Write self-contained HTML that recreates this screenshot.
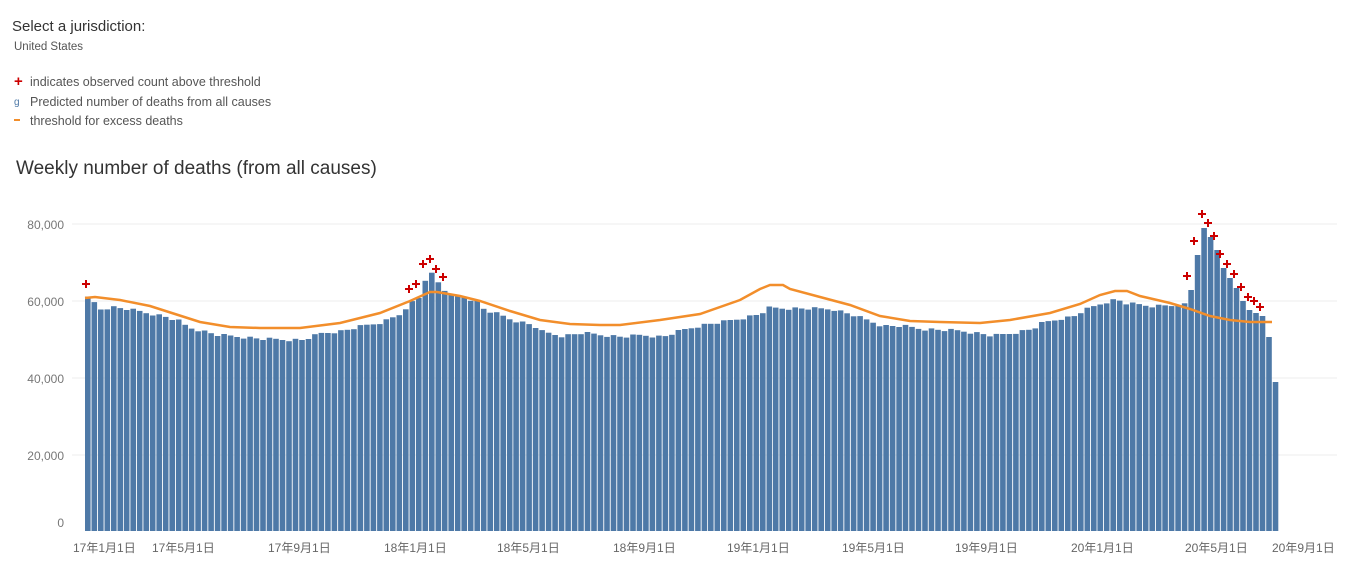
<!DOCTYPE html>
<html><head><meta charset="utf-8"><style>
body{margin:0;background:#fff;width:1349px;height:572px;overflow:hidden;font-family:"Liberation Sans","Noto Sans CJK SC",sans-serif;}
</style></head><body>
<svg id="s" width="1349" height="572" xmlns="http://www.w3.org/2000/svg" style="position:absolute;left:0;top:0">
<text x="12" y="31" font-size="15" fill="#333">Select a jurisdiction:</text>
<text x="14" y="50" font-size="11.5" fill="#555">United States</text>
<text x="14" y="86" font-size="15" fill="#c00" font-weight="bold">+</text>
<text x="30" y="86" font-size="12.5" fill="#555">indicates observed count above threshold</text>
<text x="14" y="105" font-size="10" fill="#4e79a7">g</text>
<text x="30" y="106" font-size="12.5" fill="#555">Predicted number of deaths from all causes</text>
<rect x="14" y="119" width="6" height="2" fill="#f28e2b"/>
<text x="30" y="125" font-size="12.5" fill="#555">threshold for excess deaths</text>
<text x="16" y="174" font-size="19" fill="#333">Weekly number of deaths (from all causes)</text>
<g id="g"></g>
</svg>
<script>
var g=document.getElementById('g'),h='';
[224,301,378,455].forEach(function(y){h+='<line x1="72" x2="1337" y1="'+y+'" y2="'+y+'" stroke="#eee"/>';});
[['80,000',229],['60,000',306],['40,000',383],['20,000',460],['0',527]].forEach(function(t){h+='<text x="64" y="'+t[1]+'" font-size="12" fill="#777" text-anchor="end">'+t[0]+'</text>';});
var bk=[[85,298],[91,302],[98,309],[110,307],[124,309],[140,312],[160,316],[176,321],[185,327],[200,331],[215,335],[240,337],[260,339],[300,340],[320,333],[340,331],[360,326],[380,322],[395,315],[403,311],[410,301],[417,297],[423,278],[430,273],[436,283],[443,291],[449,297],[462,297],[475,302],[482,310],[495,314],[510,320],[530,325],[540,332],[560,336],[580,333],[620,337],[640,335],[660,337],[680,330],[700,325],[720,322],[740,318],[758,314],[765,308],[830,309],[850,315],[870,322],[880,326],[900,326],[920,329],[960,331],[980,334],[990,336],[1010,333],[1030,329],[1040,323],[1060,318],[1070,317],[1080,311],[1100,303],[1115,299],[1120,303],[1150,306],[1170,305],[1180,309],[1187,290],[1194,255],[1201,228],[1208,237],[1214,250],[1221,268],[1227,278],[1234,288],[1240,301],[1247,310],[1253,313],[1260,316],[1266,337],[1272,382]];
function interp(k,x){for(var i=1;i<k.length;i++){if(x<=k[i][0]){var a=k[i-1],b=k[i];return a[1]+(b[1]-a[1])*(x-a[0])/(b[0]-a[0]);}}return k[k.length-1][1];}
for(var i=0;i<184;i++){var x=85+6.49*i;var xs=Math.round(x);var y;
if(xs>=1184){var best=bk[0];bk.forEach(function(p){if(Math.abs(p[0]-xs)<Math.abs(best[0]-xs))best=p;});y=best[1];}
else y=interp(bk,x+0.1)+((i*37%7)-3)*0.5;
h+='<rect x="'+x.toFixed(1)+'" y="'+y.toFixed(1)+'" width="5.6" height="'+(531-y).toFixed(1)+'" fill="#4e79a7"/>';}
var ok=[[85,298],[95,297],[120,300],[150,306],[175,314],[200,322],[230,327],[260,328],[300,328],[340,323],[380,313],[410,301],[430,292],[437,292],[460,296],[480,301],[510,311],[540,320],[570,324],[600,325],[620,325],[660,320],[700,314],[740,300],[760,289],[770,285],[783,285],[790,289],[820,297],[850,305],[880,316],[910,321],[940,322],[980,323],[1010,320],[1050,313],[1080,304],[1100,295],[1115,291],[1127,291],[1140,296],[1170,303],[1190,309],[1210,316],[1230,320],[1250,322],[1272,322]];
h+='<polyline fill="none" stroke="#f28e2b" stroke-width="2.5" points="'+ok.map(function(p){return p[0]+','+p[1];}).join(' ')+'"/>';
[[86,284],[409,289],[416,284],[423,264],[430,259],[436,269],[443,277],[1187,276],[1194,241],[1202,214],[1208,223],[1214,236],[1220,254],[1227,264],[1234,274],[1241,287],[1248,297],[1254,301],[1260,307]].forEach(function(p){h+='<path d="M'+(p[0]-4)+' '+p[1]+'h8M'+p[0]+' '+(p[1]-4)+'v8" stroke="#c00" stroke-width="2"/>';});
[['17年1月1日',73],['17年5月1日',152],['17年9月1日',268],['18年1月1日',384],['18年5月1日',497],['18年9月1日',613],['19年1月1日',727],['19年5月1日',842],['19年9月1日',955],['20年1月1日',1071],['20年5月1日',1185],['20年9月1日',1272]].forEach(function(t){h+='<text x="'+t[1]+'" y="552" font-size="12" fill="#666">'+t[0]+'</text>';});
g.innerHTML=h;
</script>
</body></html>
